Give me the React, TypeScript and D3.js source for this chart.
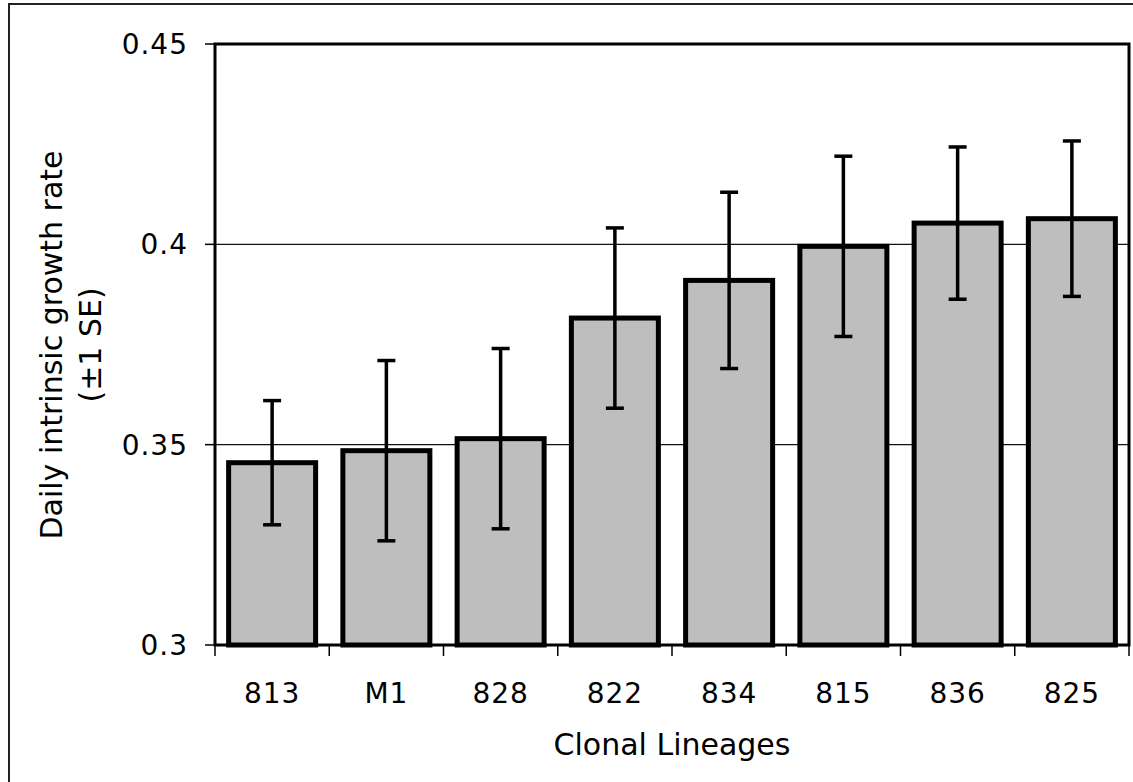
import React from 'react';
import * as d3 from 'd3';

// clonal lineages, in plotted order
const lineages = ['813', 'M1', '828', '822', '834', '815', '836', '825'];
// daily intrinsic growth rate (mean)
const growthRate = [0.3455, 0.3485, 0.3515, 0.3816, 0.391, 0.3995, 0.4053, 0.4064];
// +/- 1 standard error
const standardError = [0.0155, 0.0225, 0.0225, 0.0225, 0.022, 0.0225, 0.019, 0.0194];
const yTicks = [0.3, 0.35, 0.4, 0.45];
const gridValues = [0.35, 0.4];

const width = 1133;
const height = 782;
const plot = { left: 215, right: 1129, top: 44, bottom: 645 };
const font = '"DejaVu Sans", Verdana, sans-serif';

const App = () => {
	const x = d3.scaleBand<string>()
		.domain(lineages)
		.range([plot.left, plot.right])
		.paddingInner(0.2385)
		.paddingOuter(0.2385 / 2);
	const y = d3.scaleLinear().domain([0.3, 0.45])
		.range([plot.bottom, plot.top]);
	const step = x.step();
	const capHalf = 9;

	// tick marks sit between the categories
	const xTickPos = d3.range(lineages.length + 1).map((i) => plot.left + (i * step));

	return (
		<svg width={ width } height={ height }
			style={ { position: 'absolute', left: 0, top: 0, background: '#fff' } }>
			<rect x={ 9 } y={ 4 } width={ 1300 } height={ 1000 }
				fill="none" stroke="#222" strokeWidth={ 2 }/>

			{ gridValues.map((v) => (
				<line key={ v } x1={ plot.left } x2={ plot.right } y1={ y(v) } y2={ y(v) }
					stroke="#111" strokeWidth={ 1.3 }/>
			)) }

			{ lineages.map((d, i) => (
				<rect key={ d } x={ x(d) } y={ y(growthRate[i]) }
					width={ x.bandwidth() } height={ y(0.3) - y(growthRate[i]) }
					fill="#bebebe" stroke="#000" strokeWidth={ 5 }/>
			)) }

			{ lineages.map((d, i) => {
				const cx = (x(d) as number) + (x.bandwidth() / 2);
				const hi = y(growthRate[i] + standardError[i]);
				const lo = y(growthRate[i] - standardError[i]);

				return (
					<g key={ d } stroke="#000" strokeWidth={ 3.5 }>
						<line x1={ cx } x2={ cx } y1={ hi } y2={ lo }/>
						<line x1={ cx - capHalf } x2={ cx + capHalf } y1={ hi } y2={ hi }/>
						<line x1={ cx - capHalf } x2={ cx + capHalf } y1={ lo } y2={ lo }/>
					</g>
				);
			}) }

			{/* plot frame */}
			<rect x={ plot.left } y={ plot.top } width={ plot.right - plot.left }
				height={ plot.bottom - plot.top } fill="none" stroke="#000" strokeWidth={ 3 }/>

			{ yTicks.map((v) => (
				<g key={ v }>
					<line x1={ plot.left - 10 } x2={ plot.left } y1={ y(v) } y2={ y(v) }
						stroke="#000" strokeWidth={ 1.5 }/>
					<text x={ 188 } y={ y(v) + 10 } textAnchor="end" fontFamily={ font }
						fontSize={ 28 } letterSpacing={ 1 } fill="#000">{ String(v) }</text>
				</g>
			)) }

			{ xTickPos.map((p) => (
				<line key={ p } x1={ p } x2={ p } y1={ plot.bottom } y2={ plot.bottom + 11 }
					stroke="#000" strokeWidth={ 1.5 }/>
			)) }

			{ lineages.map((d) => (
				<text key={ d } x={ (x(d) as number) + (x.bandwidth() / 2) } y={ 703 }
					textAnchor="middle" fontFamily={ font } fontSize={ 28 } letterSpacing={ 1 }
					fill="#000">{ d }</text>
			)) }

			<text x={ (plot.left + plot.right) / 2 } y={ 755 } textAnchor="middle"
				fontFamily={ font } fontSize={ 30 } fill="#000">Clonal Lineages</text>

			<g transform="translate(0, 345) rotate(-90)" fontFamily={ font } fontSize={ 30 }
				fill="#000" textAnchor="middle">
				<text x={ 0 } y={ 62 }>Daily intrinsic growth rate</text>
				<text x={ 0 } y={ 101 }>(±1 SE)</text>
			</g>
		</svg>
	);
};

export default App;
